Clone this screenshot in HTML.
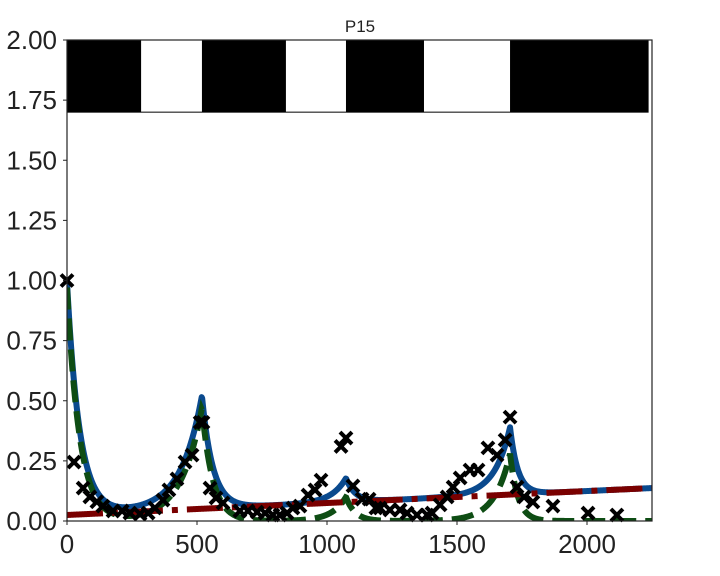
<!DOCTYPE html>
<html><head><meta charset="utf-8"><style>
html,body{margin:0;padding:0;background:#fff;}
svg{display:block;font-family:"Liberation Sans",sans-serif;}
</style></head><body>
<svg id="chart" width="720" height="576" viewBox="0 0 720 576"></svg>
<script>
// ---- data ----
const xTicks = [0, 500, 1000, 1500, 2000];
const yTicks = [0, 0.25, 0.5, 0.75, 1.0, 1.25, 1.5, 1.75, 2.0];
const yTickLabels = ["0.00","0.25","0.50","0.75","1.00","1.25","1.50","1.75","2.00"];
const bandStarts = [0, 519, 1073, 1704];
const bandEnds = [285, 842, 1373, 2235];
const peakCenters = [0, 519, 1073, 1704];
const peakHeights = [0.97, 0.47, 0.10, 0.28];
const peakLeftWidths = [60, 80, 55, 60];
const peakRightWidths = [48, 42, 35, 30];
const baselineStart = 0.025;
const baselineEnd = 0.137;
const obsX = [0,27,62,88,115,138,177,212,242,281,312,338,369,392,423,454,481,512,523,550,573,600,665,696,731,762,792,819,846,869,896,927,954,977,1054,1073,1100,1135,1162,1188,1204,1242,1281,1308,1346,1385,1404,1435,1462,1485,1512,1550,1581,1619,1654,1685,1704,1731,1758,1792,1869,2004,2115];
const obsY = [1.0,0.245,0.137,0.1,0.08,0.062,0.042,0.042,0.033,0.029,0.033,0.054,0.087,0.129,0.175,0.245,0.274,0.41,0.41,0.137,0.096,0.075,0.042,0.042,0.037,0.033,0.025,0.025,0.033,0.054,0.062,0.108,0.129,0.17,0.31,0.345,0.146,0.091,0.091,0.054,0.054,0.046,0.046,0.033,0.025,0.025,0.033,0.067,0.1,0.141,0.179,0.212,0.212,0.304,0.274,0.337,0.432,0.141,0.1,0.079,0.062,0.033,0.025];

// ---- axes ----
const L=67,R=652,T=40,B=521,XMAX=2250,YMAX=2.0;
const sx=v=>L+(v/XMAX)*(R-L);
const sy=v=>B-(v/YMAX)*(B-T);
const NS="http://www.w3.org/2000/svg";
const svg=document.getElementById('chart');
function mk(tag,attrs,parent){const e=document.createElementNS(NS,tag);for(const k in attrs)e.setAttribute(k,attrs[k]);(parent||svg).appendChild(e);return e;}

const clip=mk('clipPath',{id:'pc'});mk('rect',{x:L,y:T,width:R-L,height:B-T},clip);

// bands
const bands=mk('g',{});


for(let i=0;i<bandStarts.length;i++){
  const r=mk('rect',{x:sx(bandStarts[i]),y:sy(2.0),width:sx(bandEnds[i])-sx(bandStarts[i]),height:sy(1.7)-sy(2.0),fill:'#000'},bands);
  
  
}
mk('rect',{x:sx(0),y:sy(2.0),width:sx(bandEnds[3])-sx(0),height:sy(1.7)-sy(2.0),fill:'none',stroke:'#000','stroke-width':1},bands);

// model curves
const base=x=>baselineStart+(baselineEnd-baselineStart)*x/XMAX;
const peaks=x=>{let s=0;for(let i=0;i<peakCenters.length;i++){const d=x-peakCenters[i];const w=d<0?peakLeftWidths[i]:peakRightWidths[i];s+=peakHeights[i]*Math.exp(-Math.abs(d)/w);}return s;};
function path(f){let d='';for(let x=0;x<=XMAX;x+=2){d+=(x?'L':'M')+sx(x).toFixed(2)+','+sy(f(x)).toFixed(2);}return d;}
const g=mk('g',{'clip-path':'url(#pc)'});
const blue=mk('path',{d:path(x=>base(x)+peaks(x)),fill:'none',stroke:'#0a4a8e','stroke-width':6,'stroke-linejoin':'round','stroke-linecap':'round'},g);


const green=mk('path',{d:path(peaks),fill:'none',stroke:'#0e4d14','stroke-width':6,'stroke-dasharray':'22,9'},g);


const red=mk('path',{d:path(base),fill:'none',stroke:'#7a0000','stroke-width':6,'stroke-dasharray':'36,9,6,9'},g);



// observations
const pts=mk('g',{});


for(let i=0;i<obsX.length;i++){
  const cx=sx(obsX[i]),cy=sy(obsY[i]),s=6;
  const m=mk('path',{d:`M${cx-s},${cy-s}L${cx+s},${cy+s}M${cx-s},${cy+s}L${cx+s},${cy-s}`,stroke:'#000','stroke-width':4},pts);
  
  
}

// frame
const frame=mk('rect',{x:L,y:T,width:R-L,height:B-T,fill:'none',stroke:'#222','stroke-width':1.2});



// ticks
for(const v of xTicks){
  mk('line',{x1:sx(v),x2:sx(v),y1:B,y2:B+4,stroke:'#222'});
  const t=mk('text',{x:sx(v),y:553,'text-anchor':'middle','font-size':26,fill:'#222'});
  t.textContent=v;
  
  
}
for(let i=0;i<yTicks.length;i++){
  mk('line',{x1:L-4,x2:L,y1:sy(yTicks[i]),y2:sy(yTicks[i]),stroke:'#222'});
  const t=mk('text',{x:57,y:sy(yTicks[i])+9,'text-anchor':'end','font-size':26,fill:'#222'});
  t.textContent=yTickLabels[i];
  
  
}
const title=mk('text',{x:360,y:32,'text-anchor':'middle','font-size':17,fill:'#222'});
title.textContent='P15';


</script>
</body></html>
